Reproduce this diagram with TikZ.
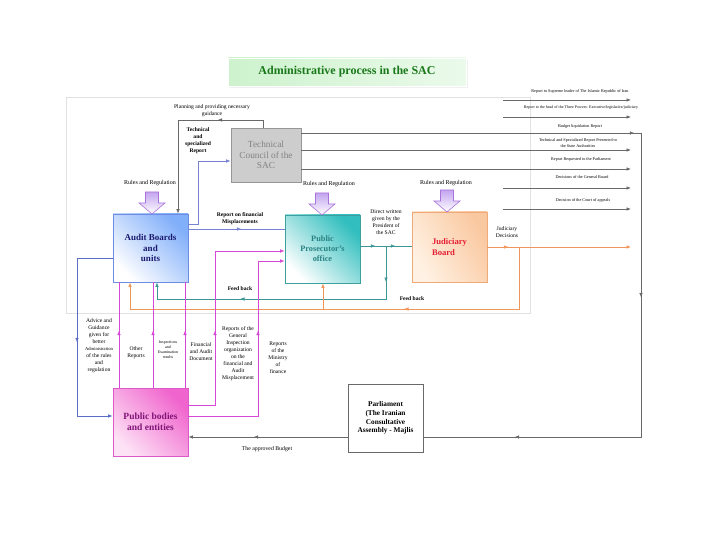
\documentclass[tikz,border=0pt]{standalone}
\usepackage{fontspec}
\setmainfont{Liberation Serif}
\usetikzlibrary{arrows.meta,decorations.markings}
\definecolor{linkgray}{RGB}{105,105,105}
\definecolor{linkblue}{RGB}{120,130,210}
\definecolor{linkblue2}{RGB}{90,110,200}
\definecolor{linkteal}{RGB}{60,150,150}
\definecolor{linkorange}{RGB}{240,150,90}
\definecolor{linkpink}{RGB}{215,70,215}
\definecolor{auditfill}{RGB}{130,175,250}
\definecolor{auditline}{RGB}{110,140,230}
\definecolor{audittext}{RGB}{25,25,110}
\definecolor{ppfill}{RGB}{50,190,190}
\definecolor{ppline}{RGB}{60,160,160}
\definecolor{pptext}{RGB}{40,130,130}
\definecolor{jbfill}{RGB}{250,200,160}
\definecolor{jbfill2}{RGB}{255,242,228}
\definecolor{jbline}{RGB}{240,170,120}
\definecolor{jbtext}{RGB}{230,30,50}
\definecolor{pbfill}{RGB}{240,100,205}
\definecolor{pbfill2}{RGB}{253,225,245}
\definecolor{pbline}{RGB}{220,90,200}
\definecolor{pbtext}{RGB}{130,20,120}
\definecolor{tcfill}{RGB}{205,205,205}
\definecolor{tcline}{RGB}{150,150,150}
\definecolor{tctext}{RGB}{130,130,130}
\definecolor{titlegreen}{RGB}{25,120,25}
\definecolor{titlefill}{RGB}{205,242,205}
\definecolor{arrowtop}{RGB}{195,165,240}
\definecolor{arrowline}{RGB}{170,115,220}
\definecolor{framegray}{RGB}{225,225,225}
\begin{document}
\begin{tikzpicture}[x=1pt,y=-1pt,
  tip/.style={-{Latex[length=4.5pt,width=3.6pt]}},
  marrow/.style={postaction={decorate,decoration={markings,mark=at position #1 with {\arrow{Latex[length=4.5pt,width=3.6pt]}}}}},
  link/.style={line width=0.7pt},
  box/.style={minimum width=75pt,minimum height=68pt,inner sep=1pt,align=center,line width=0.8pt,font=\bfseries\fontsize{9}{10.5}\selectfont},
  lbl/.style={inner sep=0pt,align=center,font=\fontsize{5.6}{7}\selectfont},
  blbl/.style={lbl,font=\bfseries\fontsize{5.6}{7}\selectfont},
  rlbl/.style={inner sep=0pt,align=center,font=\fontsize{4.2}{5.2}\selectfont},
  blockarr/.pic={\draw[draw=arrowline,top color=arrowtop,bottom color=white,line width=0.6pt]
     (-6.5,0) -- (6.5,0) -- (6.5,11) -- (13,11) -- (0,22) -- (-13,11) -- (-6.5,11) -- cycle;}
]
\useasboundingbox (0,0) rectangle (720,540);

% title
\fill[black!6] (230,60) rectangle (468,88);
\node[draw=white,left color=titlefill,right color=titlefill!40,minimum width=238pt,minimum height=28pt,
  font=\bfseries\fontsize{12}{14}\selectfont,text=titlegreen] (title) at (347,72) {Administrative process in the SAC};

% faint frame
\draw[framegray,line width=0.6pt] (66,97) rectangle (530,313);

% boxes
\node[box,draw=tcline,fill=tcfill,text=tctext,font=\fontsize{9.3}{10.8}\selectfont,minimum width=70pt,minimum height=54pt] (tc) at (266,155) {Technical\\Council of the\\SAC};
\node[box,draw=auditline,top color=auditfill,bottom color=white,shading angle=-45,text=audittext] (audit) at (150.5,248) {Audit Boards\\and\\units};
\node[box,draw=ppline,top color=ppfill,bottom color=white,shading angle=-45,text=pptext,font=\bfseries\fontsize{8.3}{10}\selectfont] (pp) at (322.5,249) {Public\\Prosecutor's\\office};
\node[box,draw=jbline,top color=jbfill,bottom color=jbfill2,shading angle=-60,text=jbtext,align=left,font=\bfseries\fontsize{8.6}{10.5}\selectfont,minimum height=70pt] (jb) at (449.5,247) {Judiciary\\Board};
\node[box,draw=pbline,top color=pbfill,bottom color=pbfill2,shading angle=-45,text=pbtext,font=\bfseries\fontsize{9.5}{11}\selectfont] (pb) at (150.5,422) {Public bodies\\and entities};
\node[box,draw=linkgray,fill=white,text=black,font=\bfseries\fontsize{7.3}{8.7}\selectfont] (parl) at (385.5,418) {Parliament\\(The Iranian\\Consultative\\Assembly - Majlis};

% block arrows
\pic at (152,192) {blockarr};
\pic at (322,193) {blockarr};
\pic at (447,190) {blockarr};

% coordinates
\coordinate (b1) at (198,224); \coordinate (b2) at (198,161);
\coordinate (p1) at (263,120); \coordinate (p2) at (178,120);
\coordinate (r) at (240,229);
\coordinate (t) at (386,246); \coordinate (f1) at (157,299);
\coordinate (o) at (519,247); \coordinate (oe) at (631,247); \coordinate (f2) at (130,309); \coordinate (f3) at (323,309);
\coordinate (k1) at (119,333); \coordinate (k2) at (153,333); \coordinate (k3) at (185,333);
\coordinate (q1) at (215,405); \coordinate (q2) at (215,251);
\coordinate (s1) at (258,416); \coordinate (s2) at (258,261);
\coordinate (u1) at (77,258); \coordinate (u2) at (77,416);
\coordinate (v) at (256,437);
\coordinate (w1) at (641,133); \coordinate (w2) at (641,437);
\coordinate (e1) at (631,150); \coordinate (e2) at (631,169);
\coordinate (a1s) at (503,100); \coordinate (a1e) at (631,100);
\coordinate (a2s) at (503,117); \coordinate (a2e) at (631,117);
\coordinate (a6s) at (503,188); \coordinate (a6e) at (631,188);
\coordinate (a7s) at (503,209); \coordinate (a7e) at (631,209);

% connectors
\draw[link,linkblue,tip] (audit.east |- b1) -- (b1) -- (b2) -- (tc.west |- b2);
\draw[link,linkgray,tip,marrow=53pt] (tc.north -| p1) -- (p1) -- (p2) -- (audit.north -| p2);
\draw[link,linkblue,marrow=0.55] (audit.east |- r) -- (pp.west |- r);
\draw[link,linkteal,marrow=15pt,marrow=35pt] (pp.east |- t) -- (jb.west |- t);
\draw[link,linkteal,tip,marrow=36pt,marrow=199pt] (t) -- (t |- f1) -- (f1) -- (audit.south -| f1);
\draw[link,linkorange,tip,marrow=21pt] (jb.east |- o) -- (oe);
\draw[link,linkorange,tip,marrow=177pt] (o) -- (o |- f2) -- (f2) -- (audit.south -| f2);
\draw[link,linkorange,tip] (f3) -- (f3 |- pp.south);
\foreach \k in {k1,k2,k3}{
  \draw[link,linkpink,marrow=57pt] (pb.north -| \k) -- (audit.south -| \k);
}
\draw[link,linkpink,tip,marrow=101pt] (pb.east |- q1) -- (q1) -- (q2) -- (pp.west |- q2);
\draw[link,linkpink,tip,marrow=155pt] (pb.east |- s1) -- (s1) -- (s2) -- (pp.west |- s2);
\draw[link,linkblue2,tip,marrow=120pt] (audit.west |- u1) -- (u1) -- (u2) -- (pb.west |- u2);
\draw[link,linkgray,tip,marrow=94pt] (parl.west |- v) -- (pb.east |- v);
\draw[link,linkgray,marrow=333pt,marrow=504pt,marrow=770pt] (tc.east |- w1) -- (w1) -- (w2) -- (parl.east |- w2);
\draw[link,linkgray,tip] (tc.east |- e1) -- (e1);
\draw[link,linkgray,tip] (tc.east |- e2) -- (e2);
\draw[link,linkgray,tip] (a1s) -- (a1e);
\draw[link,linkgray,tip] (a2s) -- (a2e);
\draw[link,linkgray,tip] (a6s) -- (a6e);
\draw[link,linkgray,tip] (a7s) -- (a7e);

% right labels
\node[rlbl] (l1) at (580,91) {Report to Supreme leader of The Islamic Republic of Iran};
\node[rlbl,font=\fontsize{4}{5}\selectfont] (l2) at (581,108) {Report to the head of the Three Powers: Executive/legislative/judiciary};
\node[rlbl] (l3) at (580,126) {Budget liquidation Report};
\node[rlbl] (l4) at (578,143) {Technical and Specialized Report Presented to\\the State Authorities};
\node[rlbl] (l5) at (581,159) {Report Requested to the Parliament};
\node[rlbl] (l6) at (582,177) {Decisions of the General Board};
\node[rlbl] (l7) at (583,200) {Decision of the Court of appeals};
\node[lbl] (l8) at (507,232) {Judiciary\\Decisions};

% other labels
\node[lbl] (pl) at (212,111) {Planning and providing necessary\\guidance};
\node[blbl] (tsr) at (198,140.5) {Technical\\and\\specialized\\Report};
\node[lbl,font=\fontsize{6}{7}\selectfont] (rr1) at (150,183) {Rules and Regulation};
\node[lbl,font=\fontsize{6}{7}\selectfont] (rr2) at (329,184) {Rules and Regulation};
\node[lbl,font=\fontsize{6}{7}\selectfont] (rr3) at (446,183) {Rules and Regulation};
\node[blbl] (rfm) at (240,218.5) {Report on financial\\Misplacements};
\node[lbl] (dw) at (386,222) {Direct written\\given by the\\President of\\the SAC};
\node[blbl] (fb1) at (240,289) {Feed back};
\node[blbl] (fb2) at (412,299) {Feed back};
\node[lbl] (adv) at (99,345.5) {Advice and\\Guidance\\given for\\better\\{\fontsize{4.6}{7}\selectfont Administration}\\of the rules\\and\\regulation};
\node[lbl] (oth) at (136,352.5) {Other\\Reports};
\node[lbl,font=\fontsize{4}{4.9}\selectfont] (ins) at (168,350) {Inspections\\and\\Examination\\results};
\node[lbl] (fin) at (201,352) {Financial\\and Audit\\Document};
\node[lbl] (gen) at (238,354) {Reports of the\\General\\Inspection\\organization\\on the\\financial and\\Audit\\Misplacement};
\node[lbl] (min) at (278,357.5) {Reports\\of the\\Ministry\\of\\finance};
\node[lbl,font=\fontsize{5.8}{7}\selectfont] (ab) at (267,449) {The approved Budget};
\end{tikzpicture}
\end{document}
